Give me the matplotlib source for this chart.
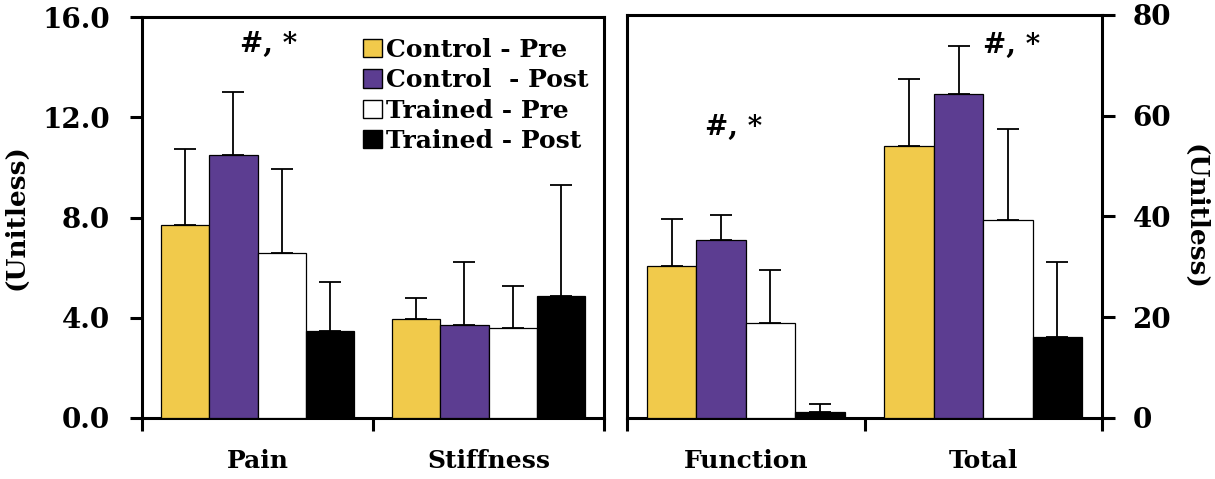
import matplotlib
matplotlib.use('Agg')
import matplotlib.pyplot as plt
from matplotlib.patches import Patch
import numpy as np

# data
groups = ['Control - Pre', 'Control  - Post', 'Trained - Pre', 'Trained - Post']
colors = ['#F1CA4B', '#5C3D91', '#FFFFFF', '#000000']

left_cats = ['Pain', 'Stiffness']
left_means = [[7.7, 3.95], [10.5, 3.72], [6.6, 3.58], [3.46, 4.86]]
left_tops = [[10.72, 4.8], [13.0, 6.22], [9.93, 5.28], [5.43, 9.3]]

right_cats = ['Function', 'Total']
right_means = [[30.2, 53.9], [35.3, 64.3], [18.8, 39.3], [1.1, 16.0]]
right_tops = [[39.5, 67.3], [40.2, 73.9], [29.4, 57.3], [2.8, 30.9]]

plt.rcParams['font.family'] = ['DejaVu Serif']
plt.rcParams['font.weight'] = 'bold'

fig = plt.figure(figsize=(12.15, 4.79), dpi=100)
W, H = 1215., 479.
axL = fig.add_axes([142/W, 1-418/H, (604-142)/W, (418-17)/H])
axR = fig.add_axes([627/W, 1-418/H, (1102-627)/W, (418-15)/H])

bw = 0.208
fs = 19


def draw_panel(ax, cats, means, tops):
    x = np.arange(len(cats))
    for i in range(len(groups)):
        pos = x + (i-1.5)*bw
        m = np.array(means[i])
        e = np.array(tops[i]) - m
        ax.bar(pos, m, bw, color=colors[i], edgecolor='black', linewidth=0.9, zorder=3)
        ax.errorbar(pos, m, yerr=[np.zeros_like(e), e], fmt='none', ecolor='black',
                    elinewidth=1.3, capsize=8, capthick=1.3, zorder=2)
    ax.set_xlim(-0.5, len(cats)-0.5)
    ax.set_xticks(np.arange(-0.5, len(cats), 1.0))
    ax.set_xticklabels([])
    ax.set_xticks(x, minor=True)
    ax.set_xticklabels(cats, minor=True, fontsize=fs-1, fontweight='bold')
    ax.tick_params(axis='x', which='minor', length=0, pad=22)
    ax.tick_params(axis='x', which='major', direction='out', length=9, width=2.2)
    for s in ax.spines.values():
        s.set_linewidth(2.2)


draw_panel(axL, left_cats, left_means, left_tops)
draw_panel(axR, right_cats, right_means, right_tops)

axL.set_ylim(0, 16)
axL.set_yticks([0, 4, 8, 12, 16])
axL.set_yticklabels(['0.0', '4.0', '8.0', '12.0', '16.0'], fontsize=fs+1, fontweight='bold')
axL.tick_params(axis='y', direction='out', length=9, width=2.2, pad=14)
axL.set_ylabel('(Unitless)', fontsize=fs, fontweight='bold', labelpad=10)

axR.set_ylim(0, 80)
axR.yaxis.tick_right()
axR.yaxis.set_label_position('right')
axR.set_yticks([0, 20, 40, 60, 80])
axR.set_yticklabels(['0', '20', '40', '60', '80'], fontsize=fs+1, fontweight='bold')
axR.tick_params(axis='y', direction='out', length=9, width=2.2, pad=13)
axR.set_ylabel('(Unitless)', fontsize=fs, fontweight='bold', rotation=270, labelpad=26)

axL.text(0.05, 14.9, '#, *', ha='center', va='center', fontsize=fs+1, fontweight='bold')
axR.text(-0.05, 57.6, '#, *', ha='center', va='center', fontsize=fs+1, fontweight='bold')
axR.text(1.12, 74.0, '#, *', ha='center', va='center', fontsize=fs+1, fontweight='bold')

handles = [Patch(facecolor=c, edgecolor='black', linewidth=1.0) for c in colors]
axL.legend(handles, groups, loc='upper right', bbox_to_anchor=(1.0, 0.985), frameon=False,
           prop={'size': fs-1, 'weight': 'bold'}, handlelength=0.75, handleheight=0.75,
           handletextpad=0.2, labelspacing=0.25, borderaxespad=0.2)

fig.savefig('out.png', dpi=100)
